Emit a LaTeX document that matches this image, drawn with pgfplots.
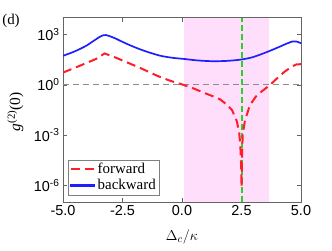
\documentclass[border=0pt]{standalone}
\usepackage{pgfplots}
\pgfplotsset{compat=1.18}
\usepackage{fontspec}
\setmainfont{Liberation Serif}
\setsansfont{Liberation Sans}
\definecolor{axgray}{RGB}{100,100,100}
\definecolor{pinkfill}{RGB}{255,222,252}
\definecolor{myred}{RGB}{255,30,40}
\definecolor{myblue}{RGB}{30,30,255}
\definecolor{mygreen}{RGB}{40,210,40}
\definecolor{dashgray}{RGB}{140,140,140}
\begin{document}
\begin{tikzpicture}
\useasboundingbox (0,0) rectangle (332bp,251bp);
\node[font=\fontsize{15}{17}\selectfont] at (11bp,230bp) {(d)};
\begin{axis}[
  at={(63bp,49bp)}, anchor=south west,
  scale only axis, width=238bp, height=184bp,
  xmin=-5, xmax=5,
  ymode=log, ymin=1e-7, ymax=1e4,
  xtick={-5,-2.5,0,2.5,5},
  xticklabels={-5.0,-2.5,0.0,2.5,5.0},
  ytick={1e-6,1e-3,1,1e3},
  yticklabels={10\textsuperscript{-6},10\textsuperscript{-3},10\textsuperscript{0},10\textsuperscript{3}},
  yminorticks=false,
  tick align=inside,
  major tick length=4bp,
  axis line style={axgray, line width=1bp},
  tick style={axgray, line width=0.8bp},
  tick label style={font=\sffamily\fontsize{14.5}{16}\selectfont, black},
  xlabel={$\Delta_c/\kappa$},
  xlabel style={at={(axis description cs:0.5,-0.19)}, anchor=center, font=\fontsize{15}{17}\selectfont},
  ylabel={\textit{g}\textsuperscript{(2)}(0)},
  ylabel style={at={(axis description cs:-0.2,0.49)}, anchor=center, font=\fontsize{15.5}{17}\selectfont},
  legend style={at={(0.021,0.038)}, anchor=south west, draw=gray, fill=white,
    font=\fontsize{15}{17}\selectfont, inner sep=1.5bp, row sep=0bp},
  legend cell align=left,
  legend image code/.code={\draw[#1] (0bp,0bp) -- (24bp,0bp);},
]
\addplot[fill=pinkfill, draw=none, forget plot] coordinates {(0.07,1e-7) (0.07,1e4) (3.67,1e4) (3.67,1e-7)} -- cycle;
\addplot[draw=dashgray, line width=1.1bp, dash pattern=on 6bp off 4bp, forget plot] coordinates {(-5,1) (5,1)};
\addplot[draw=myblue, line width=1.7bp, smooth, forget plot] coordinates {
(-5.0,55) (-4.6,89) (-4.3,138) (-4.0,229) (-3.8,355) (-3.6,550) (-3.45,759)
(-3.3,933) (-3.2,955) (-3.05,832) (-2.8,603) (-2.6,437) (-2.2,240) (-1.8,141)
(-1.4,89) (-0.9,55) (-0.4,41.7) (0.1,35.5) (0.6,29.5) (1.2,26.3) (1.8,26.9)
(2.4,31.6) (2.9,42.7) (3.3,66) (3.7,110) (4.1,191) (4.4,295) (4.65,398)
(4.8,398) (4.9,355) (5.0,309)
};
\addplot[draw=mygreen, line width=2bp, dash pattern=on 6bp off 3bp, forget plot] coordinates {(2.5,1e-7) (2.5,1e4)};
\addplot[draw=myred, line width=2bp, dash pattern=on 9bp off 5bp, forget plot] coordinates {
(-5.0,5.5) (-4.5,10.5) (-4.0,20.9) (-3.6,36.3) (-3.4,56) (-3.25,76) (-3.1,63)
(-2.8,43.7) (-2.4,25.1) (-1.8,11.0) (-1.0,3.31) (-0.5,1.78) (0.0,1.07)
(0.5,0.603) (0.9,0.347) (1.3,0.209) (1.6,0.138) (1.9,0.063) (2.1,0.0316)
(2.3,0.0069) (2.4,1.58e-3) (2.45,2.5e-4) (2.48,2.5e-5) (2.5,7.9e-7)
(2.52,4e-5) (2.55,1e-3) (2.64,6.9e-3) (2.85,0.06) (3.1,0.2) (3.3,0.36)
(3.5,0.6) (3.7,1.0) (4.0,2.51) (4.3,6.0) (4.6,12.0) (4.8,16.6) (5.0,17.4)
};
\addlegendimage{draw=myred, line width=2bp, dash pattern=on 9bp off 5bp}
\addlegendentry{forward}
\addlegendimage{legend image code/.code={\fill[myblue] (0bp,-0.9bp) rectangle (24bp,0.9bp);}}
\addlegendentry{backward}
\end{axis}
\end{tikzpicture}
\end{document}
